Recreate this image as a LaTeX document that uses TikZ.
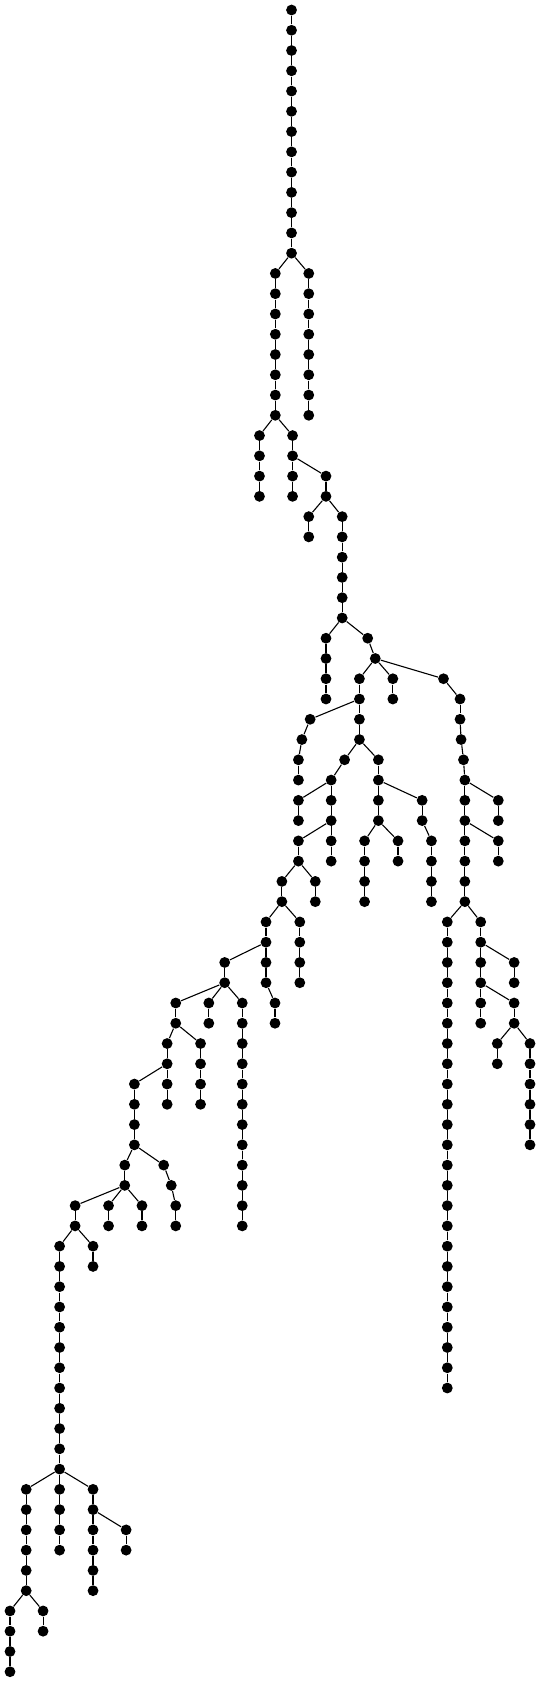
\documentclass[tikz,border=0pt]{standalone}
\usepackage{tikz}

% a vertical run of vertices, one per level, joined top to bottom
\newcommand{\dotchain}[4]{%
  \foreach \l in {#3,...,#4} {\node[vtx] (#1\l) at (#2,\l) {};}%
  \ifnum#3<#4\relax
    \pgfmathtruncatemacro{\chnext}{#3+1}%
    \foreach \l [count=\k from #3] in {\chnext,...,#4} {\draw[link] (#1\k) -- (#1\l);}%
  \fi}

\begin{document}
\begin{tikzpicture}[x=0.1723pt, y=-10.1325pt,
    vtx/.style={circle, fill=black, inner sep=0pt, minimum size=5.4pt},
    link/.style={line width=0.55pt}]
    \useasboundingbox (0,-0.4935) rectangle (1567,82.507);

    % trunk and first split
    \dotchain{tr}{846}{0}{12}
    \dotchain{la}{799}{13}{20}
    \dotchain{ra}{896}{13}{20}
    \dotchain{lb}{753}{21}{24}
    \dotchain{lc}{849}{21}{24}
    \dotchain{ld}{946}{23}{24}
    \dotchain{le}{896}{25}{26}
    \dotchain{lf}{993}{25}{30}
    \dotchain{lg}{946}{31}{34}
    \dotchain{ma}{1067}{31}{31}
    \dotchain{mb}{1089}{32}{32}
    \dotchain{mc}{1043}{33}{36}
    \dotchain{md}{1140}{33}{34}
    \dotchain{me}{1287}{33}{33}

    % left part
    \dotchain{na}{900}{35}{35}
    \dotchain{nb}{876}{36}{36}
    \dotchain{nc}{866}{37}{38}
    \dotchain{nd}{1000}{37}{37}
    \dotchain{ne}{961}{38}{42}
    \dotchain{nf}{866}{39}{40}
    \dotchain{ng}{866}{41}{42}
    \dotchain{nh}{915}{43}{44}
    \dotchain{ni}{818}{43}{44}
    \dotchain{nj}{870}{45}{48}
    \dotchain{nk}{772}{45}{48}
    \dotchain{nl}{798}{49}{50}
    \dotchain{nm}{652}{47}{48}
    \dotchain{nn}{606}{49}{50}
    \dotchain{no}{703}{49}{60}
    \dotchain{np}{510}{49}{50}
    \dotchain{nq}{582}{51}{54}
    \dotchain{nr}{485}{51}{54}
    \dotchain{ns}{390}{53}{56}
    \dotchain{nt}{475}{57}{57}
    \dotchain{nu}{497}{58}{58}
    \dotchain{nv}{510}{59}{60}
    \dotchain{nw}{362}{57}{58}
    \dotchain{nx}{315}{59}{60}
    \dotchain{ny}{412}{59}{60}
    \dotchain{nz}{218}{59}{60}
    \dotchain{pa}{270}{61}{62}
    \dotchain{pb}{173}{61}{76}
    \dotchain{pc}{270}{73}{78}
    \dotchain{pd}{366}{75}{76}
    \dotchain{pe}{76}{73}{78}
    \dotchain{pf}{29}{79}{82}
    \dotchain{pg}{125}{79}{80}

    % middle part
    \dotchain{ka}{1098}{37}{40}
    \dotchain{kb}{1225}{39}{40}
    \dotchain{kc}{1252}{41}{44}
    \dotchain{kd}{1058}{41}{44}
    \dotchain{ke}{1155}{41}{42}

    % right part
    \dotchain{qa}{1335}{34}{35}
    \dotchain{qb}{1338}{36}{36}
    \dotchain{qc}{1345}{37}{37}
    \dotchain{qd}{1349}{38}{44}
    \dotchain{qe}{1446}{39}{40}
    \dotchain{qf}{1446}{41}{42}
    \dotchain{qg}{1298}{45}{68}
    \dotchain{qh}{1395}{45}{50}
    \dotchain{qi}{1492}{47}{48}
    \dotchain{qj}{1492}{49}{50}
    \dotchain{qk}{1443}{51}{52}
    \dotchain{ql}{1538}{51}{56}

    % branchings
    \foreach \a/\b in {tr12/la13, tr12/ra13, la20/lb21, la20/lc21, lc22/ld23,
        ld24/le25, ld24/lf25, lf30/lg31, lf30/ma31, ma31/mb32,
        mb32/mc33, mb32/md33, mb32/me33,
        mc34/na35, na35/nb36, nb36/nc37, mc36/nd37, mc36/ka37, nd37/ne38,
        ne38/nf39, ne40/ng41, ng42/nh43, ng42/ni43, ni44/nk45, ni44/nj45,
        nk46/nm47, nk48/nl49, nm48/np49, nm48/nn49, nm48/no49,
        np50/nr51, np50/nq51, nr52/ns53, ns56/nw57, ns56/nt57,
        nt57/nu58, nu58/nv59, nw58/nz59, nw58/nx59, nw58/ny59,
        nz60/pb61, nz60/pa61, pb72/pe73, pb72/pc73, pc74/pd75,
        pe78/pf79, pe78/pg79,
        ka38/kb39, ka40/kd41, ka40/ke41, kb40/kc41,
        me33/qa34, qa35/qb36, qb36/qc37, qc37/qd38,
        qd38/qe39, qd40/qf41, qd44/qg45, qd44/qh45,
        qh46/qi47, qh48/qj49, qj50/qk51, qj50/ql51}
        \draw[link] (\a) -- (\b);
\end{tikzpicture}
\end{document}
